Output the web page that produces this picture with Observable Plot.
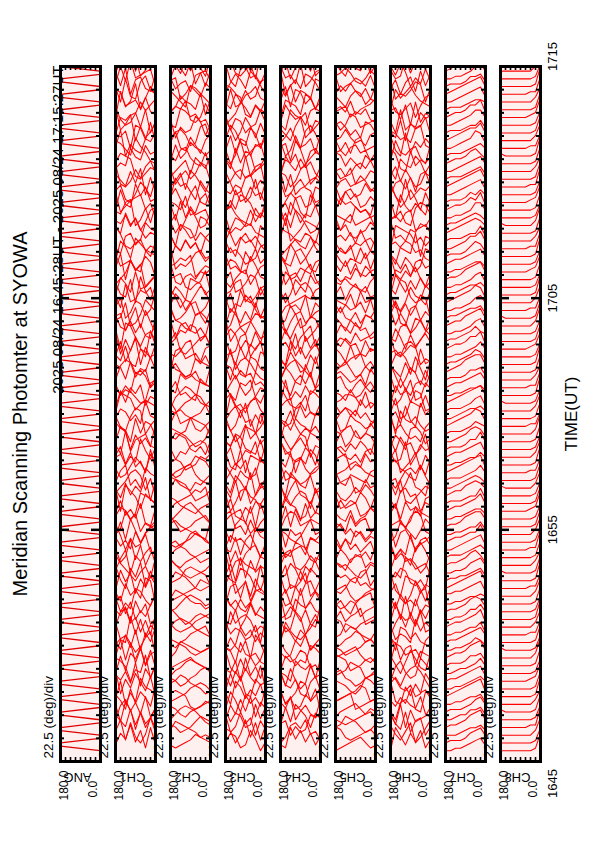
<!DOCTYPE html>
<html><head><meta charset="utf-8">
<script src="https://cdn.jsdelivr.net/npm/d3@7"></script>
<script src="https://cdn.jsdelivr.net/npm/@observablehq/plot@0.6"></script>
<style>html,body{margin:0;padding:0;background:#fff;} svg{display:block}</style>
</head><body><div id="chart"></div>
<script>
// ---------- data ----------
const channels = ["ANG","CH1","CH2","CH3","CH4","CH5","CH6","CH7","CH8"];
const titleText = "Meridian Scanning Photomter at SYOWA";
const periodText = "2025 08/24 16:45:28UT - 2025 08/24 17:15:27UT";
const scaleText = "22.5 (deg)/div";
const angleLabels = ["180.0", "0.0"];
const timeAxisTitle = "TIME(UT)";
const axisStart = "2025-08-24T16:45:00Z";
const axisEnd = "2025-08-24T17:15:00Z";
const timeTickLabels = ["1645","1655","1705","1715"];
const timeTickTimes = ["2025-08-24T16:45:00Z","2025-08-24T16:55:00Z","2025-08-24T17:05:00Z","2025-08-24T17:15:00Z"];
const scanStart = "2025-08-24T16:45:28Z";
const scanSeconds = 20;
const sweepSeconds = 12;
const scanAngles = [0, 22.5, 45, 67.5, 90, 112.5, 135, 157.5, 180];
// ANG: direction of each mirror sweep (F: 0->180, R: 180->0)
const angSweepDir = "FRFRFRFRFR" + "FRFRFRFRFR" + "FRFRFRFRFR" + "FRFRFRFRFR" + "FRFRFRFRFR" + "FRFRFRFRFR" + "FRFRFRFRFR" + "FRFRFRFRFR" + "FRFRFRFRFR";
// each string = one scan, intensity levels at scanAngles (0 deg first)
const ch1 = ["281739462","593027184","164829357","730516928","418263750","925738146","356914082","072583619","847192635","619340578",
"283957160","540618293","197425836","836071542","462839017","705164983","318592746","951306287","624781305","089253714",
"473618592","261947038","815302469","397460851","540729316","128593647","786214059","653048172","934175820","201836495",
"578920341","346157908","819463725","062798531","457031862","793685214","180427396","625913047","348762910","914250683",
"267380459","530896124","789142563","016537892","452968371","871024635","639781204","204659378","983416750","157823946",
"726095183","490372618","365148907","812637459","048295176","579410832","931562074","286743915","614908237","753281460",
"420869531","168537094","897014326","345792681","502648713","679320158","231485967","984153702","716209845","053876429",
"438591270","825730164","160948357","597362018","342017896","769458231","014693578","856124093","293780645","631509782",
"408276319","975841026","127365490","584093167","349712805","712650938","065439271","893174562","236508714","471926083"];
const ch2 = ["345643212","232456785","567532134","124678753","765431245","342126787","578764321","213457865","687542134","456787542",
"123465432","765678953","432124567","598764312","234578986","876532124","345421357","657898643","213346785","789654321",
"432357896","156787432","643212468","987654235","321346798","568976431","245763212","812345687","476532147","135798642",
"654234578","297865431","532147896","864523467","123598764","478965213","756321459","389874521","614237896","942135678",
"267894312","531267984","785432169","158976423","423689751","679124385","345976812","812354697","596821347","234765981",
"761298534","487531296","153896742","925347618","368712459","614985327","842163795","279634158","537891462","195423876",
"786354129","423197865","658742319","314869572","971536248","246378915","589214637","832695174","165473928","497218356",
"723961485","358147692","614792853","289536417","946827531","172359846","535684271","861472395","398215764","627943518",
"154768923","483129675","719356842","246891357","572463198","938715426","265194783","814637259","391528674","657284931"];
const ch3 = ["304721563","617283045","250648317","738104526","461837250","825360471","173526804","546017382","082473615","615280734",
"347615028","720348156","158062473","463758201","806214537","231576480","574830612","012647358","687301425","345182760",
"726053184","180467235","453718062","861235407","237640518","504861723","768024351","125378604","641503287","380716542",
"856240173","214587306","473061825","630825714","107346258","582174630","345608127","718452063","061237845","426780513",
"853162047","270548316","614083752","137625480","785310264","402867135","568203741","021546378","347812605","670354182",
"185726043","453087216","826130574","214765308","567402831","738251460","103684527","481537062","652018743","306742185",
"874165302","015823674","538470216","762103548","247586031","680324157","123657840","574831206","836012475","401578362",
"265843710","718205634","352761048","087436521","643180257","520673814","176428305","834056172","405712683","261583047",
"783204516","157368420","624017835","348652170","872140356","036825741","514376028","780531264","263048517","451867302"];
const ch4 = ["526374812","143857620","867213054","350468271","712530846","084621537","631784205","275016348","548203716","816457023",
"032785461","467120358","753846102","120573684","685312470","374068215","801625743","236457108","574180326","148736052",
"620853417","357261084","783504621","046312875","512678340","867143205","234065718","678520134","105437862","453826071",
"726104583","381675240","640238517","217546803","875013462","532487106","168350724","704621358","340785216","586142037",
"023568471","671203845","845376102","312850764","467031258","753624180","128475036","604812573","281357640","836104725",
"475263801","063718254","518640372","742085136","156327408","683154720","320876541","874502163","215768304","547130682",
"038625417","762341058","401587236","685204713","137856420","824013567","356742081","510368274","273415806","648027153",
"782154630","104586327","465320718","731862045","026473581","587216340","342058176","816437205","158603742","673185024",
"420756813","865032471","237814560","504267183","781340625","146725308","652081437","318574062","870436215","423165780"];
const ch5 = ["213543210","354321256","421356743","675432123","132465431","543217654","216754321","467312456","754213476","321567432",
"645321567","132476543","576432134","243675421","412356732","765423156","321754263","543162475","176534213","654213765",
"235476312","417623546","563124657","342765134","725341462","164253736","453672415","631425367","216537142","574316235",
"342165473","615734216","257463125","436217654","762345126","123576432","547231765","365142357","714635243","256473162",
"473126534","632457216","125364752","564713425","317256643","746325134","253641376","471532465","635214753","142765324",
"563427146","326154675","754362413","215473562","467235146","634152374","172643525","543716234","326475163","751234657",
"264573412","435162736","617345247","352617463","726453125","143726354","574312647","265437516","436571234","713246573",
"352164725","647325416","125743652","563217436","374652143","746135267","215476354","432761526","651324743","367142576",
"543267314","126453765","754316243","342675135","615247463","273564317","463125754","527346136","734615247","152437563"];
const ch6 = ["417362580","852074136","306518247","743260815","128457603","670183524","254736018","581042367","036875142","468213750",
"712584036","345076281","860321457","123647805","574802316","218365740","736150482","452718063","087243615","615830274",
"341567028","803126745","265478130","720354861","158603427","476281305","532047618","684135720","017862543","345720186",
"871436052","230658714","564201837","702384165","148576302","825013476","361742085","657308214","083154726","426870351",
"750213648","213645807","648027153","384561072","106738425","572184360","835402617","261573048","704826135","438015762",
"120687354","586342017","863150472","247836501","615204738","352760184","078415263","724583016","461027835","836251470",
"203748561","547613028","782035146","125478603","670812354","314256780","856340217","032187465","478601532","713524806",
"260473158","645318027","387162540","851036274","126845703","534270168","702653481","463518027","018724356","285460713",
"657231804","341807265","874053126","123586470","506742318","738164052","261305847","485627103","812743560","054218637"];
const ch7 = ["254321100","365421110","243321000","376532110","254422100","365321110","143321100","276543210","354321100","265432110",
"364322100","254421110","376532210","245321100","365432110","153321100","275432210","364421100","256532110","343321100",
"265432211","376543210","254322110","365421100","146532110","354321110","265432100","374432210","253321100","366542110",
"244321100","375432210","263321110","356542210","245432100","364321110","276543210","353321100","265432210","374421110",
"256532100","345321110","267543210","354432100","265321110","376543210","243321100","365432210","254421110","377653210",
"256432110","364321100","275532210","346432110","265321100","376542210","254432110","365321100","267543210","354432110",
"265321100","376542110","244321100","365432210","256421110","375532100","263321110","356543210","245432110","366321100",
"274532210","353421110","265432100","376543210","254321110","365432100","246532210","354321110","267432100","375543210",
"253321110","366432100","275532210","344321110","265432100","376543210","254421110","365321100","276543210","354432110"];
const ch8 = ["710000000","610000000","720000000","811000000","610000000","710000001","620000000","810000000","710000000","721000000",
"610000000","710000000","820000000","610000001","710000000","611000000","720000000","810000000","610000000","710000000",
"720000000","611000000","810000000","710000001","620000000","710000000","811000000","610000000","720000000","710000000",
"610000000","821000000","710000000","610000000","720000001","710000000","611000000","810000000","720000000","610000000",
"710000000","820000000","611000000","710000000","720000000","610000001","810000000","711000000","620000000","710000000",
"810000000","610000000","721000000","710000000","610000000","820000000","710000001","611000000","720000000","810000000",
"610000000","710000000","721000000","610000000","810000000","711000000","620000000","710000000","820000001","610000000",
"710000000","721000000","610000000","811000000","710000000","620000000","710000000","810000001","611000000","720000000",
"710000000","610000000","821000000","710000000","620000000","711000000","810000000","610000000","720000000","710000000"];

// ---------- build tables ----------
const chSeries = {CH1: ch1, CH2: ch2, CH3: ch3, CH4: ch4, CH5: ch5, CH6: ch6, CH7: ch7, CH8: ch8};
const gainSec = {CH1: 7.5, CH2: 7, CH3: 7.5, CH4: 7.5, CH5: 7, CH6: 7.5, CH7: 6.5, CH8: 6.5}; // deflection per level
const t0 = new Date(scanStart).getTime();
const traces = [];
for (const [ch, arr] of Object.entries(chSeries)) {
  arr.forEach((s, i) => {
    const t = t0 + i * scanSeconds * 1000;
    [...s].forEach((c, j) => traces.push({ch, scan: i, angle: scanAngles[j], t: new Date(t + (+c) * gainSec[ch] * 1000)}));
  });
}
const angTrace = [];
[...angSweepDir].forEach((d, i) => {
  const t = t0 + i * scanSeconds * 1000;
  const a0 = d === "F" ? scanAngles[0] : scanAngles[scanAngles.length - 1];
  const a1 = d === "F" ? scanAngles[scanAngles.length - 1] : scanAngles[0];
  angTrace.push({ch: "ANG", scan: i, angle: a0, t: new Date(t)});
  angTrace.push({ch: "ANG", scan: i, angle: a1, t: new Date(t + sweepSeconds * 1000)});
});
const minutes = d3.utcMinute.range(new Date(axisStart), new Date(new Date(axisEnd).getTime() + 1));
const majorMin = minutes.filter(d => d.getUTCMinutes() % 10 === 5);
const minorMin = minutes.filter(d => d.getUTCMinutes() % 10 !== 5);
const timeTicks = timeTickLabels.map((label, i) => ({label, t: new Date(timeTickTimes[i])}));

const font = "'Liberation Sans', Arial, Helvetica, sans-serif";
const chart = Plot.plot({
  width: 595, height: 842,
  marginLeft: 60, marginRight: 55, marginTop: 66, marginBottom: 81,
  style: {fontFamily: font, background: "white", color: "black"},
  fx: {domain: channels, paddingInner: 15 / 55, paddingOuter: 0, round: false, axis: null},
  x: {domain: [180, 0], axis: null},
  y: {type: "utc", domain: [new Date(axisStart), new Date(axisEnd)], axis: null},
  marks: [
    Plot.frame({fill: "#fff0f0", stroke: null}),
    Plot.line(traces, {x: "angle", y: "t", z: "scan", fx: "ch", stroke: "#ff0000", strokeWidth: 1.05, clip: true}),
    Plot.line(angTrace, {x: "angle", y: "t", z: "scan", fx: "ch", stroke: "#e00000", strokeWidth: 1.3, clip: true}),
    // time ticks on both long edges
    Plot.tickY(minorMin, {y: d => d, insetRight: 36, stroke: "black", strokeWidth: 2}),
    Plot.tickY(minorMin, {y: d => d, insetLeft: 36, stroke: "black", strokeWidth: 2}),
    Plot.tickY(majorMin, {y: d => d, insetRight: 31, stroke: "black", strokeWidth: 2.5}),
    Plot.tickY(majorMin, {y: d => d, insetLeft: 31, stroke: "black", strokeWidth: 2.5}),
    // angle ticks on short edges
    Plot.tickX(scanAngles, {x: d => d, insetTop: 691, stroke: "black", strokeWidth: 1.6}),
    Plot.tickX(scanAngles, {x: d => d, insetBottom: 691, stroke: "black", strokeWidth: 1.6}),
    Plot.frame({stroke: "black", strokeWidth: 3}),
    // texts
    Plot.text([channels[0]], {fx: d => d, text: () => titleText, frameAnchor: "left", textAnchor: "middle", rotate: -90, dx: -40, fontSize: 20}),
    Plot.text([channels[0]], {fx: d => d, text: () => periodText, frameAnchor: "top-left", rotate: -90, textAnchor: "end", dx: -8, dy: -1, fontSize: 15}),
    Plot.text(channels, {fx: d => d, text: () => scaleText, frameAnchor: "bottom-left", rotate: -90, textAnchor: "start", dx: -8, dy: -3, fontSize: 13.5}),
    Plot.text(channels, {fx: d => d, text: () => angleLabels[0], frameAnchor: "bottom-left", rotate: -90, textAnchor: "start", dx: 7, dy: 39, fontSize: 12}),
    Plot.text(channels, {fx: d => d, text: () => angleLabels[1], frameAnchor: "bottom-right", rotate: -90, textAnchor: "start", dx: -4, dy: 36, fontSize: 12}),
    Plot.text(channels, {fx: d => d, text: d => d, frameAnchor: "bottom-left", textAnchor: "middle", rotate: 180, dx: 17, dy: 11, fontSize: 13}),
    Plot.text(timeTicks.slice(1, -1), {fx: () => "CH8", y: "t", text: "label", frameAnchor: "right", textAnchor: "middle", rotate: -90, dx: 12, fontSize: 13}),
    Plot.text(timeTicks.slice(0, 1), {fx: () => "CH8", y: "t", text: "label", frameAnchor: "right", textAnchor: "middle", rotate: -90, dx: 12, dy: 22, fontSize: 13}),
    Plot.text(timeTicks.slice(-1), {fx: () => "CH8", y: "t", text: "label", frameAnchor: "right", textAnchor: "middle", rotate: -90, dx: 12, dy: -10, fontSize: 13}),
    Plot.text(["CH8"], {fx: d => d, text: () => timeAxisTitle, frameAnchor: "right", textAnchor: "middle", rotate: -90, dx: 31, fontSize: 17})
  ]
});
document.getElementById("chart").appendChild(chart);
</script>
</body></html>
